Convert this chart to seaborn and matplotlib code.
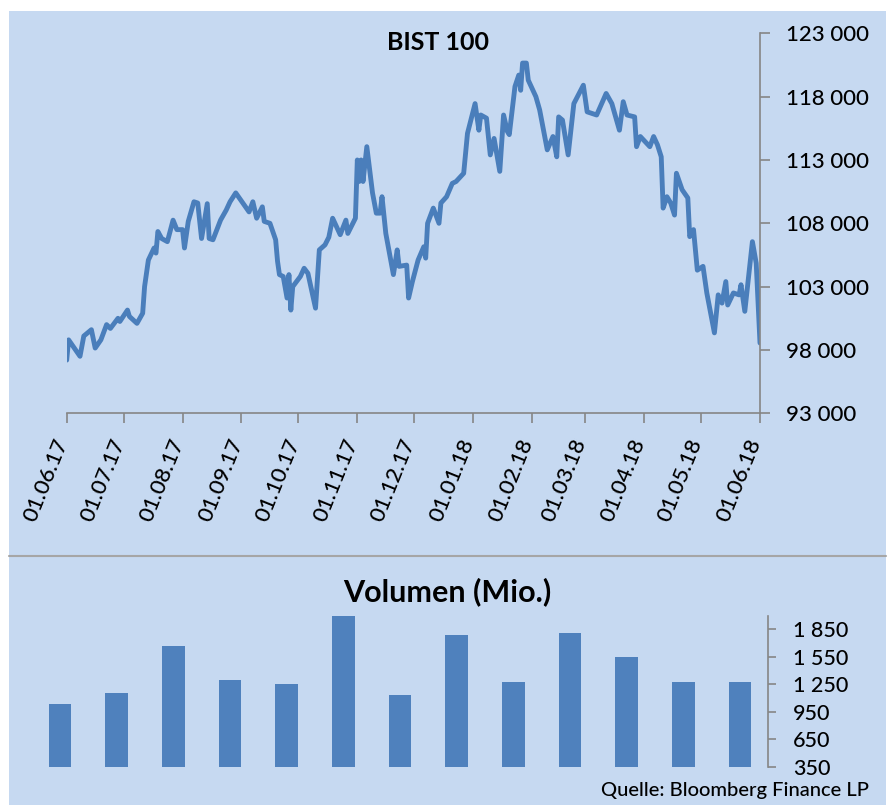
import matplotlib
matplotlib.use("Agg")
import matplotlib.pyplot as plt
import matplotlib.dates as mdates
from matplotlib.patches import Rectangle
from matplotlib.lines import Line2D
from matplotlib.transforms import ScaledTranslation
import pandas as pd
import seaborn as sns

# BIST 100: days after 01.06.17 and index level
bist_start = "2017-06-01"
bist_days = [
    0, 1, 7, 9, 13, 15, 18, 21, 23, 27,
    28, 32, 33, 37, 40, 41, 43, 46, 47, 48,
    50, 53, 56, 58, 61, 62, 64, 67, 69, 71,
    74, 75, 77, 81, 84, 86, 89, 96, 98, 100,
    103, 104, 107, 110, 111, 112, 114, 116, 117, 118,
    119, 123, 125, 127, 131, 133, 136, 138, 140, 142,
    144, 147, 148, 152, 153, 154, 155, 156, 158, 161,
    163, 165, 166, 168, 172, 174, 175, 179, 180, 182,
    185, 188, 189, 190, 193, 196, 197, 200, 203, 205,
    209, 211, 215, 217, 218, 221, 223, 225, 228, 230,
    232, 233, 236, 238, 239, 240, 242, 243, 247, 249,
    253, 256, 258, 259, 261, 264, 267, 272, 274, 279,
    284, 287, 291, 293, 295, 299, 300, 302, 307, 309,
    311, 313, 314, 316, 318, 320, 321, 324, 327, 328,
    330, 332, 335, 337, 341, 343, 345, 347, 348, 351,
    354, 355, 357, 361, 363, 365,
]
bist_values = [
    97200, 98800, 97500, 99100, 99600, 98150, 98800, 100000, 99700, 100500,
    100250, 101150, 100650, 100100, 100900, 103000, 105100, 106050, 105650, 107350,
    106800, 106550, 108250, 107500, 107500, 106050, 108150, 109700, 109600, 106800,
    109550, 106800, 106700, 108250, 109050, 109700, 110400, 108900, 109700, 108400,
    109300, 108150, 108000, 106700, 105000, 103950, 103800, 102100, 103950, 101150,
    103000, 103800, 104450, 104050, 101300, 105900, 106300, 106900, 108400, 107750,
    107100, 108250, 107200, 108400, 113000, 111300, 113000, 111300, 114050, 110400,
    108800, 108800, 110100, 107200, 103950, 105900, 104600, 104700, 102100, 103400,
    105100, 106150, 105250, 108000, 109200, 108000, 109600, 110100, 111150, 111300,
    111950, 115100, 117450, 115350, 116550, 116300, 113400, 114700, 112100, 116550,
    115250, 115000, 118800, 119700, 118500, 120650, 120650, 119300, 118000, 116950,
    113800, 114850, 113250, 116400, 116150, 113400, 117450, 118900, 116800, 116550,
    118250, 117450, 115350, 117600, 116550, 116400, 114050, 114850, 114050, 114850,
    114200, 113250, 109200, 110100, 109600, 108650, 111950, 110650, 110000, 106950,
    107500, 104300, 104600, 102500, 99350, 102350, 101700, 103400, 101550, 102500,
    102350, 103150, 101050, 106550, 104850, 98550,
]
bist_ticks = [93000, 98000, 103000, 108000, 113000, 118000, 123000]

# monthly volume (Mio.)
vol_months = ["06.17", "07.17", "08.17", "09.17", "10.17", "11.17", "12.17",
              "01.18", "02.18", "03.18", "04.18", "05.18", "06.18"]
vol_values = [1030, 1150, 1670, 1300, 1250, 2000, 1130, 1785, 1280, 1815, 1550, 1280, 1280]
vol_ticks = [350, 650, 950, 1250, 1550, 1850]

BG = "#c6d9f1"
LINE = "#4a7ebb"
BAR = "#4f81bd"
GRAY = "#868686"
W, H = 891, 805


def spaced(v):
    return f"{v:,}".replace(",", " ")


def box(x0, y0, x1, y1):
    # pixel box (top-left origin) -> figure fraction rect
    return [x0 / W, 1 - y1 / H, (x1 - x0) / W, (y1 - y0) / H]


sns.set_theme(style="white")
plt.rcParams["font.family"] = ["Lato", "DejaVu Sans"]
plt.rcParams["text.color"] = "black"

fig = plt.figure(figsize=(W / 100, H / 100), dpi=100)
fig.patch.set_facecolor("white")
fig.add_artist(Rectangle((9 / W, 0), 877 / W, (H - 11) / H, transform=fig.transFigure,
                         facecolor=BG, edgecolor="none", zorder=0))
fig.add_artist(Line2D([9 / W, 886 / W], [1 - 556 / H] * 2, color="#a6a6a6", lw=1.5))

# --- top: BIST 100 line ---
ax1 = fig.add_axes(box(66.7, 33.3, 760, 413.3))
ax1.set_facecolor("none")
df = pd.DataFrame({"date": pd.Timestamp(bist_start) + pd.to_timedelta(bist_days, unit="D"),
                   "value": bist_values})
sns.lineplot(data=df, x="date", y="value", ax=ax1, color=LINE, lw=3.5)
ax1.set_xlim(pd.Timestamp("2017-06-01"), pd.Timestamp("2018-06-01"))
ax1.set_ylim(93000, 123000)
ax1.xaxis.set_major_locator(mdates.MonthLocator(bymonthday=1))
ax1.xaxis.set_major_formatter(mdates.DateFormatter("%d.%m.%y"))
ax1.yaxis.tick_right()
ax1.set_yticks(bist_ticks)
ax1.set_yticklabels([spaced(v) for v in bist_ticks])
ax1.set_xlabel("")
ax1.set_ylabel("")
for s in ["top", "left"]:
    ax1.spines[s].set_visible(False)
for s in ["bottom", "right"]:
    ax1.spines[s].set_color(GRAY)
    ax1.spines[s].set_linewidth(1.2)
ax1.tick_params(axis="both", direction="out", length=7, width=1.2, color=GRAY,
                labelcolor="black")
ax1.tick_params(axis="x", bottom=True, labelsize=16, pad=9)
ax1.tick_params(axis="y", right=True, left=False, labelsize=16, pad=12)
shift = ScaledTranslation(5 / 100, 0, fig.dpi_scale_trans)
for lab in ax1.get_xticklabels():
    lab.set_rotation(68)
    lab.set_ha("right")
    lab.set_fontweight(500)
    lab.set_transform(lab.get_transform() + shift)
for lab in ax1.get_yticklabels():
    lab.set_fontweight(500)
fig.text(438 / W, 1 - 42 / H, "BIST 100", ha="center", va="center",
         fontsize=18, fontweight="bold", color="black")

# --- bottom: volume bars ---
ax2 = fig.add_axes(box(31.7, 615.6, 768.3, 766.7))
ax2.set_facecolor("none")
sns.barplot(x=vol_months, y=vol_values, ax=ax2, color=BAR, width=0.4, saturation=1,
            linewidth=0, edgecolor=BAR)
ax2.set_xlim(-0.5, 12.5)
ax2.set_ylim(350, 2000)
ax2.yaxis.tick_right()
ax2.set_yticks(vol_ticks)
ax2.set_yticklabels([spaced(v) for v in vol_ticks], fontweight=500)
ax2.set_xticks([])
ax2.set_xlabel("")
ax2.set_ylabel("")
for s in ["top", "left", "bottom"]:
    ax2.spines[s].set_visible(False)
ax2.spines["right"].set_color(GRAY)
ax2.spines["right"].set_linewidth(1.2)
ax2.tick_params(axis="y", right=True, left=False, direction="out", length=6, width=1.2,
                color=GRAY, labelsize=15.5, pad=12, labelcolor="black")
fig.text(447 / W, 1 - 592 / H, "Volumen (Mio.)", ha="center", va="center",
         fontsize=22, fontweight="bold", color="black")
fig.text(869 / W, 1 - 790 / H, "Quelle: Bloomberg Finance LP", ha="right", va="center",
         fontsize=14.5, fontweight=500, color="black")

fig.savefig("out.png", dpi=100, facecolor=fig.get_facecolor())
